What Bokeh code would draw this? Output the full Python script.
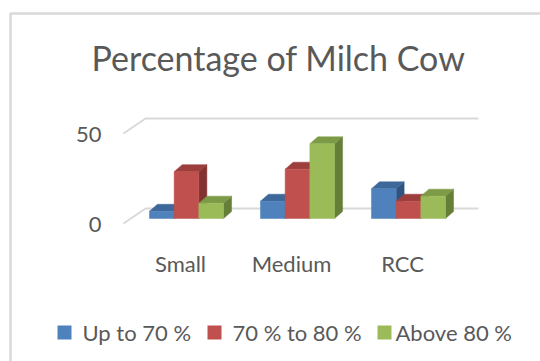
from bokeh.plotting import figure
from bokeh.models import Range1d
from bokeh.embed import file_html
from bokeh.resources import INLINE
from bokeh.core.properties import value

# ---- data ----
categories = ["Small", "Medium", "RCC"]
series_names = ["Up to 70 %", "70 % to 80 %", "Above 80 %"]
up_to_70 = [4.0, 9.6, 16.5]
p70_to_80 = [26.0, 27.4, 9.6]
above_80 = [8.5, 41.5, 12.4]
y_ticks = [0, 50]
title_text = "Percentage of Milch Cow"

series_values = [up_to_70, p70_to_80, above_80]

# ---- style ----
front_colors = ["#4f81bd", "#c0504d", "#9bbb59"]
top_colors = ["#3d6899", "#9c3f3c", "#7d9a46"]
side_colors = ["#2f5480", "#823230", "#657e38"]
TXT = "#595959"
GRID = "#d9d9d9"
FONT = "Lato"
SMALL = "22px"

W, H = 540, 361
X0, DX = 186.0, 111.0   # px of first category centre, px per category
Y0, SY = 143.0, 1.8     # px from bottom of value 0 (bar front), px per unit


def fx(px):
    return (px - X0) / DX


def fy(py):
    return (H - py - Y0) / SY


def ddx(px):
    return px / DX


def ddy(px):
    return px / SY


p = figure(width=W, height=H, x_range=Range1d(fx(0), fx(W)), y_range=Range1d(fy(H), fy(0)),
           output_backend="svg", toolbar_location=None, min_border=0,
           x_axis_location=None, y_axis_location=None)
p.grid.visible = False
p.outline_line_color = None
p.background_fill_color = "white"
p.border_fill_color = "white"

# chart border (partly outside the window)
p.line([fx(10), fx(10), fx(700)], [fy(500), fy(13), fy(13)], line_color=GRID, line_width=2.5)

# floor / gridlines
gx, gy = [], []
for v in y_ticks:
    gx.append([fx(123), fx(145), fx(478)])
    gy.append([v - ddy(5), v + ddy(10), v + ddy(10)])
p.multi_line(gx, gy, line_color=GRID, line_width=2)

# y tick labels
p.text(x=[fx(101)] * len(y_ticks), y=[v - ddy(6) for v in y_ticks], text=[str(v) for v in y_ticks],
       text_align="right", text_baseline="middle", text_font=value(FONT),
       text_font_size=SMALL, text_color=TXT)

# 3D bars
bw = ddx(24.7)
dx, dy = ddx(8), ddy(7)
for j, vals in enumerate(series_values):
    xc = [i + (j - 1) * bw for i in range(len(categories))]
    side_x, side_y, top_x, top_y = [], [], [], []
    for c, v in zip(xc, vals):
        r = c + bw / 2
        l = c - bw / 2
        side_x.append([r, r + dx, r + dx, r])
        side_y.append([0, dy, v + dy, v])
        top_x.append([l, r, r + dx, l + dx])
        top_y.append([v, v, v + dy, v + dy])
    p.patches(side_x, side_y, fill_color=side_colors[j], line_color=side_colors[j], line_width=0.5)
    p.patches(top_x, top_y, fill_color=top_colors[j], line_color=top_colors[j], line_width=0.5)
    p.vbar(x=xc, width=bw, top=vals, bottom=0, fill_color=front_colors[j],
           line_color=front_colors[j], line_width=0.5)

# category labels
p.text(x=[i - ddx(6) for i in range(len(categories))], y=[fy(263)] * len(categories), text=categories,
       text_align="center", text_baseline="middle", text_font=value(FONT),
       text_font_size=SMALL, text_color=TXT)

# title
p.text(x=[fx(278)], y=[fy(57)], text=[title_text], text_align="center", text_baseline="middle",
       text_font=value(FONT), text_font_size="34px", text_color=TXT)

# legend
sq_px = [64, 214, 384]
lab_px = [82, 232, 395]
p.rect(x=[fx(v) for v in sq_px], y=[fy(332)] * 3, width=14, height=14, width_units="screen",
       height_units="screen", fill_color=front_colors, line_color=None)
p.text(x=[fx(v) for v in lab_px], y=[fy(332)] * 3, text=series_names, text_align="left",
       text_baseline="middle", text_font=value(FONT), text_font_size=SMALL, text_color=TXT)

open("out.html", "w").write(file_html(p, INLINE))
